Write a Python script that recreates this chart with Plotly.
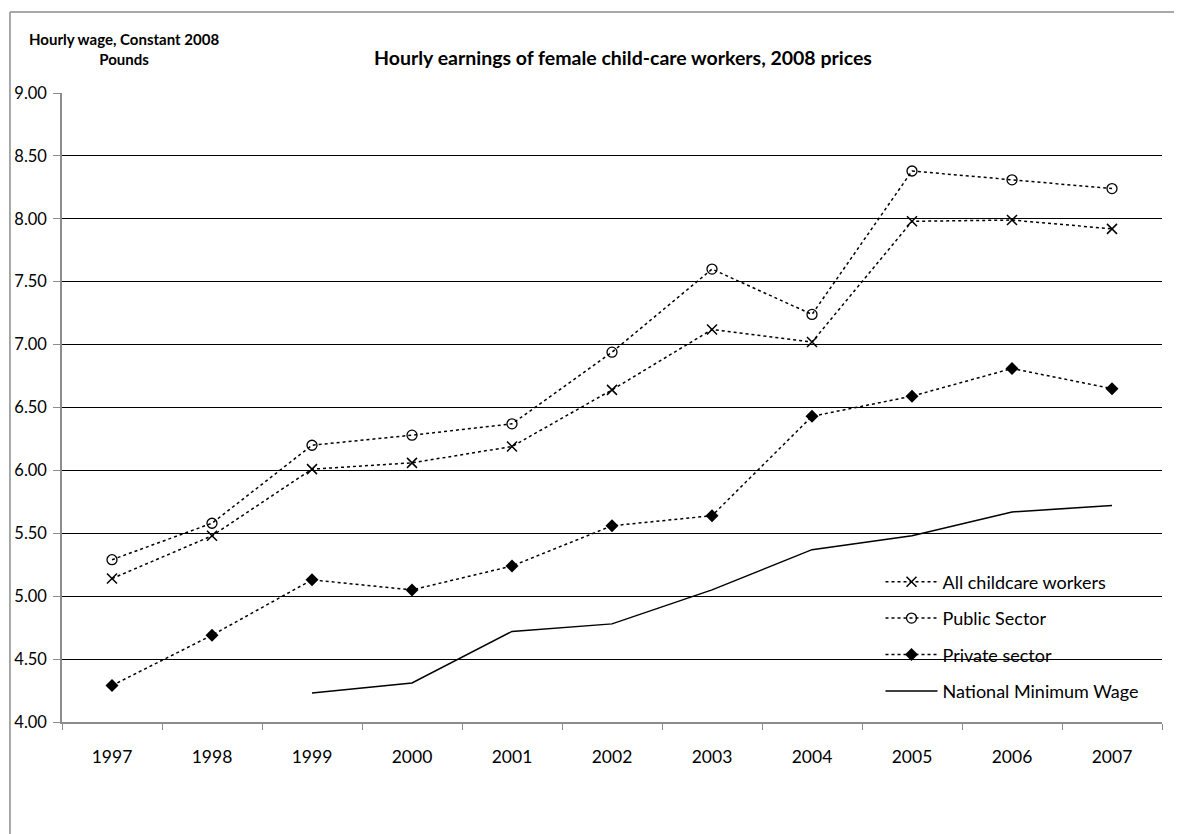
import plotly.graph_objects as go

years = ["1997", "1998", "1999", "2000", "2001", "2002", "2003", "2004", "2005", "2006", "2007"]
all_childcare = [5.14, 5.48, 6.01, 6.06, 6.19, 6.64, 7.12, 7.02, 7.98, 7.99, 7.92]
public_sector = [5.29, 5.58, 6.20, 6.28, 6.37, 6.94, 7.60, 7.24, 8.38, 8.31, 8.24]
private_sector = [4.29, 4.69, 5.13, 5.05, 5.24, 5.56, 5.64, 6.43, 6.59, 6.81, 6.65]
nmw_years = ["1999", "2000", "2001", "2002", "2003", "2004", "2005", "2006", "2007"]
nmw = [4.23, 4.31, 4.72, 4.78, 5.05, 5.37, 5.48, 5.67, 5.72]
y_ticks = [4.0, 4.5, 5.0, 5.5, 6.0, 6.5, 7.0, 7.5, 8.0, 8.5, 9.0]

FONT = "Lato"
fig = go.Figure()
fig.add_trace(go.Scatter(x=years, y=all_childcare, name="All childcare workers", mode="lines+markers",
                         legendgroup="a",
                         line=dict(color="black", width=1.5, dash="dot"),
                         marker=dict(symbol="x-thin-open", size=10, color="black", line=dict(width=1.5, color="black"))))
fig.add_trace(go.Scatter(x=years, y=public_sector, name="Public Sector", mode="lines+markers",
                         legendgroup="b",
                         line=dict(color="black", width=1.5, dash="dot"),
                         marker=dict(symbol="circle-open", size=10, color="black", line=dict(width=1.3, color="black"))))
fig.add_trace(go.Scatter(x=years, y=private_sector, name="Private sector", mode="lines+markers",
                         legendgroup="c",
                         line=dict(color="black", width=1.5, dash="dot"),
                         marker=dict(symbol="diamond", size=10, color="black")))
fig.add_trace(go.Scatter(x=nmw_years, y=nmw, name="National Minimum Wage", mode="lines",
                         legendgroup="d",
                         line=dict(color="black", width=1.5)))

# chart-area border
fig.add_shape(type="line", xref="paper", yref="paper", x0=-0.0473, x1=1.05, y0=1.1288, y1=1.1288,
              line=dict(color="#8c8c8c", width=1.5))
fig.add_shape(type="line", xref="paper", yref="paper", x0=-0.0473, x1=-0.0473, y0=1.1288, y1=-0.3,
              line=dict(color="#8c8c8c", width=1.5))
# legend backdrop hiding gridlines (not the traces)
fig.add_shape(type="rect", xref="paper", yref="paper", x0=(860 - 62) / 1100, x1=1.0,
              y0=(722 - 705) / 629, y1=(722 - 548) / 629, layer="between",
              fillcolor="white", line=dict(width=0))

fig.add_annotation(text="<b>Hourly wage, Constant 2008<br>Pounds</b>", xref="paper", yref="paper",
                   x=(124 - 62) / 1100, y=(722 - 49) / 629, xanchor="center", yanchor="middle", showarrow=False,
                   font=dict(family=FONT, size=15, color="black"), align="center")

fig.update_layout(
    width=1174, height=826,
    margin=dict(l=54, r=20, t=85, b=112),
    paper_bgcolor="white", plot_bgcolor="white",
    font=dict(family=FONT, size=17, color="black"),
    title=dict(text="<b>Hourly earnings of female child-care workers, 2008 prices</b>",
               x=(623 - 62) / 1100, xref="paper", xanchor="center", y=1 - 50 / 826, yanchor="middle",
               font=dict(family=FONT, size=19.5, color="black")),
    showlegend=True,
    legend=dict(x=(880.5 - 62) / 1100, y=(722 - 563.5) / 629, xanchor="left", yanchor="top",
                bgcolor="rgba(0,0,0,0)",
                font=dict(family=FONT, size=18, color="black"),
                traceorder="grouped", tracegroupgap=10, itemwidth=52),
    xaxis=dict(type="category", categoryorder="array", categoryarray=years,
               range=[-0.5, 10.5], showgrid=False, showline=True, linecolor="#8c8c8c", linewidth=1.5,
               ticks="outside", tickson="boundaries", ticklen=6, tickcolor="#8c8c8c",
               ticklabelstandoff=18, automargin=False, tickfont=dict(family=FONT, size=17.5)),
    yaxis=dict(range=[4.0, 9.0], tickvals=y_ticks, tickformat=".2f", showgrid=True,
               gridcolor="black", gridwidth=1, showline=True, linecolor="#8c8c8c", linewidth=1.5,
               ticks="outside", ticklen=7, tickcolor="#8c8c8c", zeroline=False, automargin=False,
               ticklabelstandoff=3, tickfont=dict(family=FONT, size=16.5)),
)

fig.write_html("out.html")
